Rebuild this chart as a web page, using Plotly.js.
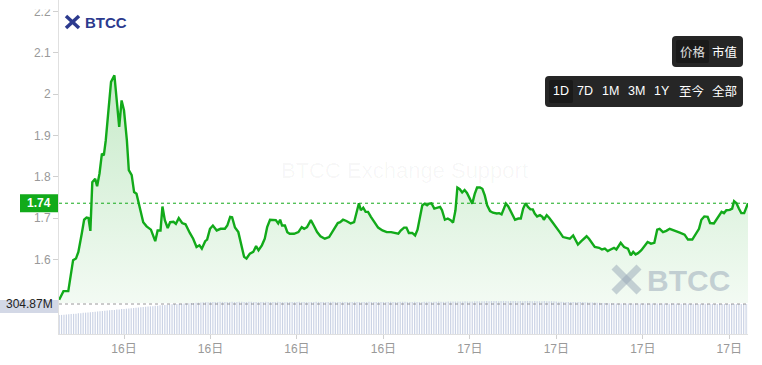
<!DOCTYPE html>
<html><head><meta charset="utf-8">
<script src="https://cdn.plot.ly/plotly-3.0.1.min.js"></script>
<style>html,body{margin:0;padding:0;background:#fff;}#chart{width:762px;height:365px;}</style>
</head><body><div id="chart"></div>
<script>
// ---- DATA ----
const priceTimes = [
'2024-01-16 09:45','2024-01-16 09:54','2024-01-16 10:04','2024-01-16 10:10','2024-01-16 10:14','2024-01-16 10:20','2024-01-16 10:25','2024-01-16 10:32','2024-01-16 10:37','2024-01-16 10:42',
'2024-01-16 10:46','2024-01-16 10:50','2024-01-16 10:54','2024-01-16 11:00','2024-01-16 11:04','2024-01-16 11:09','2024-01-16 11:14','2024-01-16 11:18','2024-01-16 11:22','2024-01-16 11:27',
'2024-01-16 11:33','2024-01-16 11:40','2024-01-16 11:45','2024-01-16 11:50','2024-01-16 11:55','2024-01-16 12:00','2024-01-16 12:06','2024-01-16 12:10','2024-01-16 12:16','2024-01-16 12:21',
'2024-01-16 12:26','2024-01-16 12:33','2024-01-16 12:40','2024-01-16 12:47','2024-01-16 12:56','2024-01-16 13:05','2024-01-16 13:10','2024-01-16 13:16','2024-01-16 13:20','2024-01-16 13:25',
'2024-01-16 13:31','2024-01-16 13:36','2024-01-16 13:43','2024-01-16 13:48','2024-01-16 13:54','2024-01-16 14:01','2024-01-16 14:08','2024-01-16 14:17','2024-01-16 14:24','2024-01-16 14:31',
'2024-01-16 14:37','2024-01-16 14:42','2024-01-16 14:49','2024-01-16 14:53','2024-01-16 14:59','2024-01-16 15:05','2024-01-16 15:13','2024-01-16 15:21','2024-01-16 15:30','2024-01-16 15:35',
'2024-01-16 15:41','2024-01-16 15:45','2024-01-16 15:51','2024-01-16 15:58','2024-01-16 16:05','2024-01-16 16:10','2024-01-16 16:15','2024-01-16 16:22','2024-01-16 16:29','2024-01-16 16:35',
'2024-01-16 16:40','2024-01-16 16:47','2024-01-16 16:53','2024-01-16 16:58','2024-01-16 17:04','2024-01-16 17:11','2024-01-16 17:16','2024-01-16 17:21','2024-01-16 17:25','2024-01-16 17:29',
'2024-01-16 17:35','2024-01-16 17:40','2024-01-16 17:45','2024-01-16 17:54','2024-01-16 18:03','2024-01-16 18:10','2024-01-16 18:15','2024-01-16 18:21','2024-01-16 18:29','2024-01-16 18:35',
'2024-01-16 18:42','2024-01-16 18:49','2024-01-16 18:58','2024-01-16 19:07','2024-01-16 19:16','2024-01-16 19:25','2024-01-16 19:30','2024-01-16 19:36','2024-01-16 19:43','2024-01-16 19:52',
'2024-01-16 19:59','2024-01-16 20:04','2024-01-16 20:09','2024-01-16 20:13','2024-01-16 20:18','2024-01-16 20:23','2024-01-16 20:28','2024-01-16 20:34','2024-01-16 20:41','2024-01-16 20:49',
'2024-01-16 20:58','2024-01-16 21:07','2024-01-16 21:16','2024-01-16 21:24','2024-01-16 21:31','2024-01-16 21:36','2024-01-16 21:43','2024-01-16 21:48','2024-01-16 21:53','2024-01-16 22:00',
'2024-01-16 22:06','2024-01-16 22:11','2024-01-16 22:16','2024-01-16 22:21','2024-01-16 22:26','2024-01-16 22:31','2024-01-16 22:35','2024-01-16 22:40','2024-01-16 22:46','2024-01-16 22:53',
'2024-01-16 22:58','2024-01-16 23:02','2024-01-16 23:08','2024-01-16 23:14','2024-01-16 23:20','2024-01-16 23:25','2024-01-16 23:30','2024-01-16 23:34','2024-01-16 23:39','2024-01-16 23:44',
'2024-01-16 23:49','2024-01-16 23:54','2024-01-17 00:00','2024-01-17 00:05','2024-01-17 00:10','2024-01-17 00:15','2024-01-17 00:21','2024-01-17 00:26','2024-01-17 00:31','2024-01-17 00:36',
'2024-01-17 00:42','2024-01-17 00:48','2024-01-17 00:56','2024-01-17 01:01','2024-01-17 01:06','2024-01-17 01:11','2024-01-17 01:15','2024-01-17 01:20','2024-01-17 01:27','2024-01-17 01:34',
'2024-01-17 01:41','2024-01-17 01:46','2024-01-17 01:51','2024-01-17 01:56','2024-01-17 02:01','2024-01-17 02:06','2024-01-17 02:11','2024-01-17 02:15','2024-01-17 02:20','2024-01-17 02:26',
'2024-01-17 02:31','2024-01-17 02:34','2024-01-17 02:40','2024-01-17 02:45','2024-01-17 02:52','2024-01-17 03:00','2024-01-17 03:07','2024-01-17 03:14','2024-01-17 03:21','2024-01-17 03:28',
'2024-01-17 03:35','2024-01-17 03:41','2024-01-17 03:45','2024-01-17 03:52','2024-01-17 03:57','2024-01-17 04:03','2024-01-17 04:08','2024-01-17 04:15','2024-01-17 04:20','2024-01-17 04:29',
'2024-01-17 04:35','2024-01-17 04:41','2024-01-17 04:47','2024-01-17 04:53','2024-01-17 05:00','2024-01-17 05:05','2024-01-17 05:14','2024-01-17 05:21','2024-01-17 05:29','2024-01-17 05:35',
'2024-01-17 05:40','2024-01-17 05:45','2024-01-17 05:50','2024-01-17 05:57','2024-01-17 06:04','2024-01-17 06:10','2024-01-17 06:17','2024-01-17 06:24','2024-01-17 06:30','2024-01-17 06:35',
'2024-01-17 06:42','2024-01-17 06:49','2024-01-17 06:56','2024-01-17 07:07','2024-01-17 07:17','2024-01-17 07:27','2024-01-17 07:34','2024-01-17 07:43','2024-01-17 07:50','2024-01-17 07:57',
'2024-01-17 08:02','2024-01-17 08:08','2024-01-17 08:15','2024-01-17 08:20','2024-01-17 08:28','2024-01-17 08:37','2024-01-17 08:44','2024-01-17 08:49','2024-01-17 08:54','2024-01-17 09:01',
'2024-01-17 09:06','2024-01-17 09:10','2024-01-17 09:15','2024-01-17 09:20','2024-01-17 09:25','2024-01-17 09:31','2024-01-17 09:36','2024-01-17 09:39'
];
const prices = [
1.502,1.523,1.523,1.565,1.598,1.602,1.618,1.662,1.696,1.701,
1.700,1.669,1.787,1.795,1.777,1.808,1.856,1.852,1.888,1.953,
2.030,2.046,1.977,1.921,1.985,1.961,1.888,1.816,1.804,1.763,
1.759,1.727,1.690,1.680,1.672,1.644,1.670,1.670,1.728,1.695,
1.676,1.690,1.691,1.686,1.700,1.688,1.685,1.664,1.650,1.630,
1.634,1.626,1.644,1.648,1.674,1.682,1.670,1.674,1.674,1.682,
1.703,1.702,1.677,1.666,1.626,1.606,1.602,1.614,1.618,1.632,
1.622,1.634,1.650,1.678,1.696,1.696,1.695,1.687,1.696,1.682,
1.682,1.666,1.662,1.662,1.666,1.678,1.674,1.678,1.695,1.682,
1.666,1.656,1.650,1.654,1.670,1.688,1.690,1.696,1.693,1.687,
1.690,1.715,1.736,1.719,1.725,1.715,1.715,1.703,1.690,1.677,
1.670,1.666,1.666,1.664,1.662,1.670,1.677,1.677,1.664,1.664,
1.658,1.672,1.703,1.731,1.735,1.731,1.735,1.736,1.723,1.725,
1.727,1.719,1.696,1.699,1.695,1.689,1.719,1.774,1.770,1.762,
1.768,1.761,1.747,1.735,1.758,1.774,1.774,1.771,1.755,1.731,
1.717,1.713,1.711,1.712,1.709,1.723,1.735,1.728,1.711,1.696,
1.699,1.699,1.723,1.736,1.727,1.721,1.721,1.711,1.704,1.707,
1.703,1.696,1.707,1.701,1.690,1.678,1.666,1.654,1.652,1.650,
1.658,1.646,1.636,1.644,1.650,1.656,1.650,1.638,1.630,1.628,
1.624,1.626,1.620,1.624,1.628,1.624,1.640,1.630,1.626,1.610,
1.618,1.612,1.615,1.622,1.632,1.642,1.638,1.640,1.672,1.674,
1.666,1.669,1.674,1.670,1.665,1.660,1.648,1.648,1.662,1.674,
1.696,1.704,1.703,1.688,1.687,1.703,1.715,1.712,1.719,1.720,
1.723,1.741,1.736,1.723,1.712,1.712,1.725,1.736
];
// volume in millions, one bar per 5 minutes starting at volumeStart
const volumeStart = '2024-01-16 09:45';
const volumes = [
193,194,196,198,200,203,205,207,210,212,215,217,219,222,224,226,229,231,234,236,238,241,243,245,248,250,253,255,257,260,262,264,267,269,272,274,276,279,281,283,286,288,291,293,295,298,300,
302,304,305,307,308,310,311,313,314,316,317,319,320,
322,324,323,325,326,324,325,327,326,325,324,326,327,
325,326,328,327,326,325,327,328,326,325,324,326,325,
327,326,325,324,326,327,325,324,323,325,326,324,325,
326,327,325,326,324,323,325,326,327,326,325,324,326,
325,327,328,326,325,326,327,325,324,325,326,327,326,
325,324,326,325,327,326,325,324,325,326,325,324,326,
327,326,325,326,327,328,327,326,325,326,327,326,325,
326,327,328,327,326,327,328,329,328,327,328,329,330,
329,330,331,330,331,332,331,330,331,332,333,332,333,
334,335,334,335,336,335,334,335,336,335,334,335,336,335,334,335,334,335,336,335,334,335,334,333,334,335,334,333,334,333,
330,328,327,326,325,326,325,324,325,326,325,324,323,322,321,320,319,318,317,316,
315,314,313,312,312,311,311,310,311,310,310,309,310,311,310,309,310,310,309,310,
311,310,309,308,309,310,309,308,309,310,309,308,307,308,309,308,307,308,307,306,
307,308,307,306,307,306,305,306,307,306,305,306,305,306,305,304,305,306,305,305,304.87
];
const priceTickVals = [1.6,1.7,1.8,1.9,2,2.1,2.2];
const priceTickText = ['1.6','1.7','1.8','1.9','2','2.1','2.2'];
const metricButtons = ['价格','市值'];
const rangeButtons = ['1D','7D','1M','3M','1Y','至今','全部'];

// ---- helpers ----
function pad(n){return (n<10?'0':'')+n;}
function addMinutes(s, m){
  const [d,t] = s.split(' ');
  const [Y,Mo,D] = d.split('-').map(Number);
  const [h,mi] = t.split(':').map(Number);
  const dt = new Date(Date.UTC(Y,Mo-1,D,h,mi) + m*60000);
  return dt.getUTCFullYear()+'-'+pad(dt.getUTCMonth()+1)+'-'+pad(dt.getUTCDate())+' '+pad(dt.getUTCHours())+':'+pad(dt.getUTCMinutes());
}
const volumeTimes = volumes.map((v,i)=>addMinutes(volumeStart, i*5));

const L=59, R=14, H=334, W=762-L-R;
const px = x => (x-L)/W;
const py = y => (H-y)/H;
function rr(x0,y0,x1,y1,r){
  const P=(x,y)=>px(x)+','+py(y);
  return 'M'+P(x0+r,y0)+' L'+P(x1-r,y0)+' Q'+P(x1,y0)+' '+P(x1,y0+r)+
    ' L'+P(x1,y1-r)+' Q'+P(x1,y1)+' '+P(x1-r,y1)+' L'+P(x0+r,y1)+
    ' Q'+P(x0,y1)+' '+P(x0,y1-r)+' L'+P(x0,y0+r)+' Q'+P(x0,y0)+' '+P(x0+r,y0)+' Z';
}

const GREEN = '#12aa1a';
const FONT = 'Liberation Sans, Arial, Noto Sans CJK SC, sans-serif';
const lastPrice = prices[prices.length-1];
const lastVol = volumes[volumes.length-1];

const traces = [
  {type:'scatter', mode:'lines', x:priceTimes, y:prices, xaxis:'x', yaxis:'y',
   line:{color:GREEN, width:2.4}, fill:'tozeroy',
   fillgradient:{type:'vertical', start:1.49, stop:2.05,
     colorscale:[[0,'rgba(19,168,28,0.05)'],[1,'rgba(19,168,28,0.24)']]},
   hoverinfo:'skip'},
  {type:'bar', x:volumeTimes, y:volumes, xaxis:'x', yaxis:'y2',
   marker:{color:'#cbd3e5', line:{width:0}}, hoverinfo:'skip'}
];

const shapes = [
  {type:'line', xref:'paper', yref:'y', x0:0, x1:1, y0:lastPrice, y1:lastPrice,
   line:{color:GREEN, width:1, dash:'3px,3px'}},
  {type:'line', xref:'paper', yref:'y2', x0:0, x1:1, y0:lastVol, y1:lastVol,
   line:{color:'rgba(110,110,110,0.7)', width:1, dash:'3px,3px'}},
  {type:'rect', xref:'paper', yref:'y', ysizemode:'pixel', yanchor:lastPrice, y0:-9, y1:9,
   x0:px(20), x1:px(58), fillcolor:GREEN, line:{width:0}},
  {type:'rect', xref:'paper', yref:'y2', ysizemode:'pixel', yanchor:lastVol, y0:-9, y1:9,
   x0:px(0), x1:px(58), fillcolor:'#d3d8e6', line:{width:0}},
  // clip top of label column
  {type:'rect', xref:'paper', yref:'paper', x0:px(0), x1:px(57), y0:py(9.5), y1:py(-2),
   fillcolor:'#ffffff', line:{width:0}, layer:'above'},
  // button boxes
  {type:'path', xref:'paper', yref:'paper', path:rr(672,36,743,67,4), fillcolor:'#262626', line:{width:0}},
  {type:'path', xref:'paper', yref:'paper', path:rr(676,40,709,63,2), fillcolor:'#1a1a1a', line:{width:0}},
  {type:'path', xref:'paper', yref:'paper', path:rr(545,76,743,107,4), fillcolor:'#262626', line:{width:0}},
  {type:'path', xref:'paper', yref:'paper', path:rr(549,80,573,103,2), fillcolor:'#1a1a1a', line:{width:0}},
  // top-left logo icon
  {type:'line', xref:'paper', yref:'paper', x0:px(66), y0:py(16), x1:px(79), y1:py(28), line:{color:'#2c3a8e', width:3.5}},
  {type:'line', xref:'paper', yref:'paper', x0:px(79), y0:py(16), x1:px(66), y1:py(28), line:{color:'#2c3a8e', width:3.5}},
  // bottom-right watermark icon
  {type:'line', xref:'paper', yref:'paper', x0:px(614), y0:py(267), x1:px(639), y1:py(292), line:{color:'rgba(150,165,182,0.5)', width:7}},
  {type:'line', xref:'paper', yref:'paper', x0:px(639), y0:py(267), x1:px(614), y1:py(292), line:{color:'rgba(150,165,182,0.5)', width:7}}
];

const annotations = [
  {xref:'paper', yref:'y', x:px(39), y:lastPrice, text:'<b>'+lastPrice.toFixed(2)+'</b>', showarrow:false,
   font:{family:FONT, size:12, color:'#ffffff'}, xanchor:'center', yanchor:'middle'},
  {xref:'paper', yref:'y2', x:px(29), y:lastVol, text:lastVol.toFixed(2)+'M', showarrow:false,
   font:{family:FONT, size:12, color:'#222'}, xanchor:'center', yanchor:'middle'},
  {xref:'paper', yref:'paper', x:px(83), y:py(22.5), text:'<b>BTCC</b>', showarrow:false,
   font:{family:FONT, size:15, color:'#2c3a8e'}, xanchor:'left', yanchor:'middle'},
  {xref:'paper', yref:'paper', x:px(404), y:py(170), text:'BTCC Exchange Support', showarrow:false,
   font:{family:FONT, size:22, color:'rgba(0,0,0,0.04)'}, xanchor:'center', yanchor:'middle'},
  {xref:'paper', yref:'paper', x:px(645), y:py(280), text:'<b>BTCC</b>', showarrow:false,
   font:{family:FONT, size:30, color:'rgba(150,165,182,0.5)'}, xanchor:'left', yanchor:'middle'}
];
const metricX = [692.5, 724.5];
metricButtons.forEach((t,i)=>annotations.push({xref:'paper', yref:'paper', x:px(metricX[i]), y:py(52), text:t,
  showarrow:false, font:{family:FONT, size:12.5, color:i===0?'#e0e0e0':'#ffffff'}, xanchor:'center', yanchor:'middle'}));
const rangeX = [561, 584.5, 610, 636.5, 661.5, 691.5, 724.5];
rangeButtons.forEach((t,i)=>annotations.push({xref:'paper', yref:'paper', x:px(rangeX[i]), y:py(91.5), text:t,
  showarrow:false, font:{family:FONT, size:12.5, color:'#ffffff'}, xanchor:'center', yanchor:'middle'}));

const yTop = 2.2283, yBot = 1.4943;
const layout = {
  width:762, height:365,
  margin:{l:L, r:R, t:0, b:31},
  paper_bgcolor:'#ffffff', plot_bgcolor:'rgba(0,0,0,0)',
  showlegend:false, bargap:0.5,
  font:{family:FONT, color:'#999'},
  xaxis:{type:'date', anchor:'y2', range:['2024-01-16 09:44:40','2024-01-17 09:39:00'],
    tickformat:'%d日', dtick:3*3600*1000, tick0:'2024-01-16 00:00',
    ticks:'outside', ticklen:4, tickcolor:'#d0d0d0', showline:true, linecolor:'#e0e0e0',
    showgrid:false, zeroline:false, tickfont:{family:FONT, size:12, color:'#999'}},
  yaxis:{domain:[31/334, 1], range:[yBot, yTop], tickvals:priceTickVals, ticktext:priceTickText,
    ticks:'outside', ticklen:5, tickcolor:'#d0d0d0', showline:true, linecolor:'#e0e0e0',
    showgrid:false, zeroline:false, tickfont:{family:FONT, size:12, color:'#999'}},
  yaxis2:{domain:[0, 34/334], range:[0, 345.5], tickvals:[lastVol], showticklabels:false,
    ticks:'outside', ticklen:4, tickcolor:'#333', showline:true, linecolor:'#e0e0e0',
    showgrid:false, zeroline:false},
  shapes:shapes, annotations:annotations
};
Plotly.newPlot('chart', traces, layout, {staticPlot:true, displayModeBar:false});
</script>
</body></html>
